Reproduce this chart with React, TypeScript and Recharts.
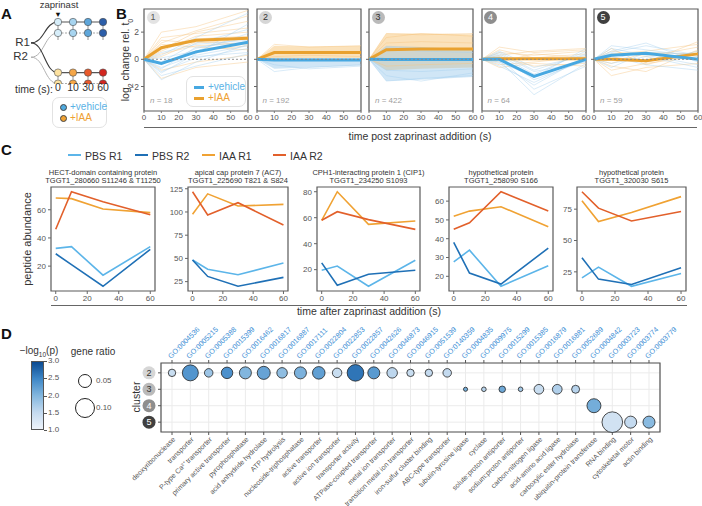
import React from "react";
import {
  Area,
  CartesianGrid,
  Cell,
  ComposedChart,
  Line,
  LineChart,
  ReferenceArea,
  ReferenceLine,
  Scatter,
  ScatterChart,
  XAxis,
  YAxis,
  ZAxis,
} from "recharts";

const FONT = '"Liberation Sans", Arial, sans-serif';

// ---------- panel A (schematic) ----------
const A_TIMES = [0, 10, 30, 60];
const A_REPS = ["R1", "R2"];
const A_ROW_LANES = [0, 1, 4.6, 5.6]; // vehicle R1, vehicle R2, IAA R1, IAA R2
const A_ROW_REP = [0, 1, 0, 1];
const A_REP_LANES = [1.9, 3.2];
const A_VEH_SHADES = ["#d6edf9", "#a7d4ef", "#5ea6da", "#2c5ea9"];
const A_IAA_SHADES = ["#fde2a0", "#f5a648", "#e95a2b", "#d2261f"];

// ---------- panel B ----------
const B_TIMES = [0, 10, 30, 60];
const B_XTICKS = [0, 10, 20, 30, 40, 50, 60];
const B_N = [18, 192, 422, 64, 59];
const B_VEH_MEAN = [
  [0, -0.3, 0.55, 1.25],
  [0, -0.05, -0.05, -0.05],
  [0, -0.02, -0.02, -0.02],
  [0, 0, -1.25, 0],
  [0, 0.3, 0.45, 0],
];
const B_IAA_MEAN = [
  [0, 0.85, 1.4, 1.55],
  [0, 0.5, 0.5, 0.5],
  [0, 0.7, 0.75, 0.75],
  [0, 0.04, 0.04, 0.04],
  [0, 0, -0.1, 0.4],
];
const B_VEH_TRACES = [
  [
    [0, -0.6, 0.3, 1.0],
    [0, -0.2, 1.2, 2.2],
    [0, -0.9, 0.1, 0.8],
    [0, 0.3, 1.6, 3.4],
    [0, -1.2, -0.5, 0.4],
    [0, -0.4, 0.8, 1.6],
    [0, -1.5, -0.2, 1.1],
    [0, 0.1, 0.6, 1.9],
    [0, -0.7, 0.9, 1.3],
    [0, -0.3, 0.2, 0.5],
    [0, -1.0, 0.4, 2.6],
    [0, 0.5, 1.1, 1.4],
  ],
  [
    [0, -0.9, -0.6, -0.4],
    [0, -0.4, -0.7, -0.5],
  ],
  [
    [0, -1.6, -1.4, -1.2],
    [0, -1.2, -1.6, -1.0],
    [0, 0.8, 0.6, 0.5],
    [0, -0.8, -0.9, -0.7],
  ],
  [
    [0, 0.2, -1.5, -0.1],
    [0, -0.3, -1.9, 0.2],
    [0, 0.5, -0.8, 0.4],
    [0, -0.1, -2.6, -0.3],
    [0, 0.3, -1.1, 0.6],
    [0, -0.5, -1.7, 0.1],
    [0, 0.1, -2.2, -0.5],
    [0, 0.6, -0.6, 0.3],
    [0, -0.2, -1.3, 0.8],
    [0, 0.4, -0.9, -0.2],
  ],
  [
    [0, 0.8, 0.3, -0.4],
    [0, 0.5, 1.0, 0.3],
    [0, -0.3, 0.2, -0.6],
    [0, 1.0, 0.7, 0.2],
    [0, 0.2, -0.4, -0.8],
    [0, -0.6, 0.5, 0.4],
    [0, 0.6, 1.2, -0.2],
    [0, 0.4, -0.2, 0.6],
  ],
];
const B_IAA_TRACES = [
  [
    [0, 1.2, 2.1, 3.2],
    [0, 0.4, 1.0, 1.2],
    [0, 1.6, 1.9, 2.3],
    [0, -0.3, 0.6, 1.0],
    [0, 0.9, 1.5, 1.7],
    [0, 2.0, 2.4, 3.6],
    [0, 0.2, 1.3, 1.1],
    [0, 1.1, 0.9, 0.7],
    [0, 0.6, 1.7, 2.0],
    [0, -0.8, -0.2, 0.3],
    [0, 1.4, 1.2, 1.5],
    [0, 0.7, 2.0, 2.8],
    [0, -1.4, -0.6, -0.2],
  ],
  [
    [0, 1.1, 0.9, 1.0],
    [0, 0.2, 0.3, 0.2],
  ],
  [
    [0, 1.9, 1.8, 1.9],
    [0, 1.6, 1.9, 1.7],
    [0, -0.5, -0.4, -0.3],
    [0, 1.2, 1.3, 1.2],
  ],
  [
    [0, 0.5, 0.3, 0.6],
    [0, -0.4, -0.2, 0.2],
    [0, 0.9, 0.5, 0.7],
    [0, 0.2, -0.5, -0.3],
    [0, -0.2, 0.4, 0.1],
    [0, 0.7, 0.1, 0.4],
    [0, -0.6, -0.3, -0.5],
    [0, 0.3, 0.6, 0.8],
  ],
  [
    [0, -0.5, -0.9, 0.7],
    [0, 0.4, 0.6, 1.1],
    [0, -0.8, -0.3, 0.2],
    [0, 0.6, 0.2, 0.9],
    [0, -1.2, -0.6, -0.3],
    [0, 0.2, -0.2, 1.3],
    [0, -0.3, 0.5, 0.4],
    [0, 0.8, -0.4, 0.6],
  ],
];
const B_VEH_LO = [null, [0, -0.7, -0.6, -0.45], [0, -1.6, -1.5, -1.3], null, null];
const B_VEH_HI = [null, [0, 0.12, 0.1, 0.1], [0, 1.0, 0.9, 0.7], null, null];
const B_IAA_LO = [null, [0, 0.05, 0.1, 0.1], [0, -0.8, -0.7, -0.6], null, null];
const B_IAA_HI = [null, [0, 1.0, 0.95, 1.0], [0, 1.9, 1.9, 1.85], null, null];

const CLUSTER_FILL = ["#e3e3e3", "#d6d6d6", "#bababa", "#8e8e8e", "#404040"];
const CLUSTER_TEXT = ["#555", "#333", "#333", "#fff", "#fff"];

// ---------- panel C ----------
const C_TIMES = [0, 10, 30, 60];
const C_TITLES = [
  ["HECT-domain containing protein", "TGGT1_280660 S11246 & T11250"],
  ["apical cap protein 7 (AC7)", "TGGT1_225690 T821 & S824"],
  ["CPH1-interacting protein 1 (CIP1)", "TGGT1_234250 S1093"],
  ["hypothetical protein", "TGGT1_258090 S166"],
  ["hypothetical protein", "TGGT1_320030 S615"],
];
const C_PBS_R1 = [
  [32.6, 33.8, 13.6, 33.8],
  [48.3, 38.4, 32.4, 45.1],
  [19.5, 22.8, 7.2, 27.2],
  [27.7, 33.9, 14.7, 25.6],
  [20.2, 28.8, 13.5, 23.7],
];
const C_PBS_R2 = [
  [28.8, 21, 5.7, 31.9],
  [48.3, 30.6, 20, 29.6],
  [25.2, 8, 16.4, 19.5],
  [38, 21.7, 15.9, 35],
  [36.2, 19.2, 14.9, 28.2],
];
const C_IAA_R1 = [
  [68.3, 67.9, 60.5, 58],
  [97.6, 119.5, 106.4, 108.2],
  [58, 80, 54.9, 57.5],
  [52, 54.7, 57, 46.4],
  [81.7, 65.1, 72.3, 85],
];
const C_IAA_R2 = [
  [46.2, 72.8, 65.7, 56.4],
  [121.8, 96.8, 110, 86],
  [58, 64.6, 58.5, 51],
  [45, 48.5, 65, 54.7],
  [88.9, 75.8, 65.6, 73.1],
];
const C_YTICKS = [
  [20, 40, 60],
  [25, 50, 75, 100, 125],
  [20, 40, 60, 80],
  [20, 30, 40, 50, 60],
  [25, 50, 75],
];
const C_SERIES = ["PBS R1", "PBS R2", "IAA R1", "IAA R2"];
const C_COLORS = ["#5cb5e9", "#1f70b6", "#f0a233", "#e2602b"];
const C_BOX_LEFT = [51, 188, 317, 449, 577];
const C_BOX_W = [104, 100, 103, 104, 109];

// ---------- panel D ----------
const GO_IDS = [
  "GO:0004536", "GO:0005215", "GO:0005388", "GO:0015399", "GO:0016462", "GO:0016817",
  "GO:0016887", "GO:0017111", "GO:0022804", "GO:0022853", "GO:0022857", "GO:0042626",
  "GO:0046873", "GO:0046915", "GO:0051539", "GO:0140359", "GO:0004835", "GO:0009975",
  "GO:0015299", "GO:0015385", "GO:0016879", "GO:0016881", "GO:0052689", "GO:0004842",
  "GO:0003723", "GO:0003774", "GO:0003779",
];
const GO_TERMS = [
  "deoxyribonuclease", "transporter", "P-type Ca²⁺ transporter", "primary active transporter",
  "pyrophosphatase", "acid anhydride hydrolase", "ATP hydrolysis", "nucleoside-triphosphatase",
  "active transporter", "active ion transporter", "transporter activity", "ATPase-coupled transporter",
  "metal ion transporter", "transition metal ion transporter", "iron-sulfur cluster binding",
  "ABC-type transporter", "tubulin-tyrosine ligase", "cyclase", "solute:proton antiporter",
  "sodium:proton antiporter", "carbon-nitrogen ligase", "acid-amino acid ligase",
  "carboxylic ester hydrolase", "ubiquitin-protein transferase", "RNA binding",
  "cytoskeletal motor", "actin binding",
];
const GO_CLUSTER = [2, 2, 2, 2, 2, 2, 2, 2, 2, 2, 2, 2, 2, 2, 2, 2, 3, 3, 3, 3, 3, 3, 3, 4, 5, 5, 5];
const GO_RATIO = [
  0.013, 0.06, 0.017, 0.031, 0.034, 0.04, 0.026, 0.034, 0.037, 0.021, 0.065, 0.034, 0.026,
  0.013, 0.013, 0.017, 0.004, 0.005, 0.01, 0.005, 0.022, 0.022, 0.015, 0.046, 0.1, 0.034, 0.034,
];
const GO_NLP = [
  1.45, 2.35, 1.8, 2.4, 2.0, 2.2, 1.9, 2.05, 2.25, 1.45, 2.65, 2.3, 1.55, 1.45, 1.5, 1.5,
  2.1, 1.6, 2.15, 1.75, 1.45, 1.65, 1.6, 2.1, 1.35, 1.5, 1.95,
];
const NLP_STOPS = [1, 1.5, 2, 2.5, 3];
const NLP_COLORS = ["#eef3fa", "#c4daef", "#82b6de", "#3e87c7", "#0b4a91"];
const LEGEND_RATIOS = [0.05, 0.1];
const SIZE_DOMAIN = [0, 0.1];
const SIZE_RANGE = [0, 334];

function hexToRgb(h: string) {
  const n = parseInt(h.slice(1), 16);
  return [(n >> 16) & 255, (n >> 8) & 255, n & 255];
}
function nlpColor(v: number) {
  const c = Math.max(NLP_STOPS[0], Math.min(NLP_STOPS[NLP_STOPS.length - 1], v));
  let i = 0;
  while (i < NLP_STOPS.length - 2 && c > NLP_STOPS[i + 1]) i++;
  const f = (c - NLP_STOPS[i]) / (NLP_STOPS[i + 1] - NLP_STOPS[i]);
  const a = hexToRgb(NLP_COLORS[i]);
  const b = hexToRgb(NLP_COLORS[i + 1]);
  const m = a.map((x, k) => Math.round(x + (b[k] - x) * f));
  return `rgb(${m[0]},${m[1]},${m[2]})`;
}
function ratioRadius(r: number) {
  const area = SIZE_RANGE[0] + ((r - SIZE_DOMAIN[0]) / (SIZE_DOMAIN[1] - SIZE_DOMAIN[0])) * (SIZE_RANGE[1] - SIZE_RANGE[0]);
  return Math.sqrt(area / Math.PI);
}
const minus = (v: number) => (v < 0 ? `\u2212${-v}` : `${v}`);

function Txt({ x, y, size = 10, color = "#333", anchor = "start", weight = 400, italic = false, children }: any) {
  const tx = anchor === "middle" ? "-50%" : anchor === "end" ? "-100%" : "0";
  return (
    <div
      style={{
        position: "absolute",
        left: x,
        top: y,
        fontSize: size,
        color,
        fontWeight: weight,
        fontStyle: italic ? "italic" : "normal",
        lineHeight: 1,
        whiteSpace: "nowrap",
        transform: `translate(${tx}, -50%)`,
      }}
    >
      {children}
    </div>
  );
}

function VTxt({ x, y, size = 10, color = "#333", children }: any) {
  return (
    <div
      style={{
        position: "absolute",
        left: x,
        top: y,
        fontSize: size,
        color,
        lineHeight: 1,
        whiteSpace: "nowrap",
        transform: "translate(-50%, -50%) rotate(-90deg)",
      }}
    >
      {children}
    </div>
  );
}

function ClusterBadge({ x, y, c, r = 6.5, size = 9 }: any) {
  return (
    <div
      style={{
        position: "absolute",
        left: x - r,
        top: y - r,
        width: 2 * r,
        height: 2 * r,
        borderRadius: "50%",
        background: CLUSTER_FILL[c - 1],
        color: CLUSTER_TEXT[c - 1],
        fontSize: size,
        lineHeight: `${2 * r}px`,
        textAlign: "center",
      }}
    >
      {c}
    </div>
  );
}

// ---------- A ----------
function PanelA() {
  const branchStart = -1.8;
  return (
    <>
      <Txt x={1} y={13} size={15} weight={700} color="#111">A</Txt>
      <Txt x={59} y={5} size={9.5} anchor="middle">zaprinast</Txt>
      <Txt x={58} y={14.5} size={7.5} anchor="middle" color="#111">▼</Txt>
      <div style={{ position: "absolute", left: 0, top: 0 }}>
        <ComposedChart width={115} height={96} margin={{ top: 0, right: 0, bottom: 0, left: 0 }}>
          <XAxis
            type="number"
            dataKey="s"
            domain={[-58 / 15, 57 / 15]}
            ticks={[0, 1, 2, 3]}
            interval={0}
            height={12}
            axisLine={false}
            tickLine={false}
            tickSize={0}
            tickMargin={0}
            tick={{ fontSize: 10.5, fill: "#333" }}
            tickFormatter={(v: number) => String(A_TIMES[v])}
            allowDataOverflow
          />
          <YAxis type="number" dataKey="y" hide domain={[-2, 62 / 11]} reversed allowDataOverflow />
          {A_ROW_LANES.map((lane, r) => (
            <Line
              key={`b${r}`}
              data={[
                { s: branchStart, y: A_REP_LANES[A_ROW_REP[r]] },
                { s: 0, y: lane },
              ]}
              dataKey="y"
              type="bumpX"
              stroke={A_ROW_REP[r] === 0 ? "#3a3a3a" : "#a8a8a8"}
              strokeWidth={A_ROW_REP[r] === 0 ? 1.1 : 0.9}
              dot={false}
              activeDot={false}
              isAnimationActive={false}
            />
          ))}
          {A_ROW_LANES.map((lane, r) => {
            const shades = r < 2 ? A_VEH_SHADES : A_IAA_SHADES;
            return (
              <Line
                key={`r${r}`}
                data={A_TIMES.map((_, i) => ({ s: i, y: lane }))}
                dataKey="y"
                stroke={A_ROW_REP[r] === 0 ? "#555" : "#999"}
                strokeWidth={A_ROW_REP[r] === 0 ? 1.2 : 0.9}
                strokeDasharray={A_ROW_REP[r] === 0 ? undefined : "2 1.5"}
                isAnimationActive={false}
                activeDot={false}
                dot={(p: any) => (
                  <g key={`d${r}-${p.index}`}>
                    <line x1={p.cx} x2={p.cx} y1={p.cy + 3} y2={p.cy + 7} stroke="#777" strokeWidth={0.8} />
                    <circle cx={p.cx} cy={p.cy} r={3.7} fill={shades[p.index]} stroke="#4a4a4a" strokeWidth={0.6} />
                  </g>
                )}
              />
            );
          })}
        </ComposedChart>
      </div>
      <Txt x={30} y={43} size={11.5} anchor="end">{A_REPS[0]}</Txt>
      <Txt x={28} y={57} size={11.5} anchor="end">{A_REPS[1]}</Txt>
      <Txt x={53} y={89} size={10.5} anchor="end">time (s):</Txt>
      <div
        style={{
          position: "absolute",
          left: 52,
          top: 97,
          width: 55,
          height: 31,
          border: "1px solid #e2e2e2",
          borderRadius: 7,
          boxSizing: "border-box",
        }}
      />
      <div style={{ position: "absolute", left: 59.5, top: 103.5, width: 7, height: 7, borderRadius: "50%", background: "#4faadf", border: "0.6px solid #444", boxSizing: "border-box" }} />
      <div style={{ position: "absolute", left: 59.5, top: 114.5, width: 7, height: 7, borderRadius: "50%", background: "#f0a233", border: "0.6px solid #444", boxSizing: "border-box" }} />
      <Txt x={70} y={107} size={10} color="#5ab2e6">+vehicle</Txt>
      <Txt x={70} y={118} size={10} color="#eea033">+IAA</Txt>
    </>
  );
}

// ---------- B ----------
function TrendPanel({ k }: { k: number }) {
  const boxLeft = 144 + k * 112.5;
  const vTr = B_VEH_TRACES[k];
  const iTr = B_IAA_TRACES[k];
  const data = B_TIMES.map((t, i) => {
    const row: any = { t, vm: B_VEH_MEAN[k][i], im: B_IAA_MEAN[k][i] };
    vTr.forEach((tr, j) => (row[`v${j}`] = tr[i]));
    iTr.forEach((tr, j) => (row[`i${j}`] = tr[i]));
    if (B_VEH_LO[k]) row.vb = [B_VEH_LO[k]![i], B_VEH_HI[k]![i]];
    if (B_IAA_LO[k]) row.ib = [B_IAA_LO[k]![i], B_IAA_HI[k]![i]];
    return row;
  });
  const dom = [-3.8, 3.7];
  return (
    <div style={{ position: "absolute", left: boxLeft - 20, top: 0 }}>
      <ComposedChart width={134} height={124} data={data} margin={{ top: 9, right: 10, bottom: 0, left: 0 }}>
        <XAxis
          dataKey="t"
          type="number"
          domain={[0, 60]}
          ticks={B_XTICKS}
          interval={0}
          height={13}
          axisLine={false}
          tickSize={2}
          tickMargin={1}
          tickLine={{ stroke: "#777" }}
          tick={{ fontSize: 8, fill: "#555" }}
        />
        <YAxis
          type="number"
          domain={dom}
          ticks={[-2, 0, 2]}
          width={20}
          axisLine={false}
          tickSize={3}
          tickMargin={2}
          tickLine={{ stroke: "#666" }}
          tick={{ fontSize: 8.5, fill: "#555" }}
          tickFormatter={k === 0 ? minus : () => ""}
          allowDataOverflow
        />
        {B_IAA_LO[k] && (
          <Area dataKey="ib" stroke="none" fill="#f5b95e" fillOpacity={0.42} isAnimationActive={false} activeDot={false} />
        )}
        {B_VEH_LO[k] && (
          <Area dataKey="vb" stroke="none" fill="#8fc4ea" fillOpacity={0.42} isAnimationActive={false} activeDot={false} />
        )}
        {iTr.map((_, j) => (
          <Line key={`i${j}`} dataKey={`i${j}`} stroke="#f5c27e" strokeOpacity={0.6} strokeWidth={0.7} dot={false} activeDot={false} isAnimationActive={false} />
        ))}
        {vTr.map((_, j) => (
          <Line key={`v${j}`} dataKey={`v${j}`} stroke="#a3cfee" strokeOpacity={0.6} strokeWidth={0.7} dot={false} activeDot={false} isAnimationActive={false} />
        ))}
        <Line dataKey="im" stroke="#e9a12f" strokeWidth={3} dot={false} activeDot={false} isAnimationActive={false} />
        <Line dataKey="vm" stroke="#47a8e1" strokeWidth={3} dot={false} activeDot={false} isAnimationActive={false} />
        <ReferenceLine y={0} stroke="#888" strokeWidth={0.9} strokeDasharray="2 2" />
        <ReferenceArea x1={0} x2={60} y1={dom[0]} y2={dom[1]} fill="none" stroke="#5a5a5a" strokeWidth={1.2} />
      </ComposedChart>
    </div>
  );
}

function PanelB() {
  return (
    <>
      <Txt x={116} y={13} size={15} weight={700} color="#111">B</Txt>
      {B_N.map((_, k) => (
        <TrendPanel key={k} k={k} />
      ))}
      {B_N.map((n, k) => (
        <React.Fragment key={`l${k}`}>
          <ClusterBadge x={144 + k * 112.5 + 9} y={17.5} c={k + 1} />
          <Txt x={144 + k * 112.5 + 6} y={101} size={8} color="#a0a0a0">
            <i>n</i> = {n}
          </Txt>
        </React.Fragment>
      ))}
      <VTxt x={127} y={60} size={10.5}>
        log<sub style={{ fontSize: 7 }}>2</sub> change rel. t<sub style={{ fontSize: 7 }}>0</sub>
      </VTxt>
      <div
        style={{
          position: "absolute",
          left: 186,
          top: 76,
          width: 60,
          height: 31,
          background: "#fff",
          border: "1px solid #e2e2e2",
          borderRadius: 7,
          boxSizing: "border-box",
        }}
      />
      <div style={{ position: "absolute", left: 194, top: 85.5, width: 10, height: 3, background: "#47a8e1" }} />
      <div style={{ position: "absolute", left: 194, top: 96.5, width: 10, height: 3, background: "#e9a12f" }} />
      <Txt x={208} y={87} size={10} color="#5ab2e6">+vehicle</Txt>
      <Txt x={208} y={98} size={10} color="#eea033">+IAA</Txt>
      <div style={{ position: "absolute", left: 144, top: 127, width: 553, borderTop: "1px solid #666" }} />
      <Txt x={420} y={136} size={10.5} anchor="middle">time post zaprinast addition (s)</Txt>
    </>
  );
}

// ---------- C ----------
function AbundancePanel({ j }: { j: number }) {
  const series = [C_PBS_R1[j], C_PBS_R2[j], C_IAA_R1[j], C_IAA_R2[j]];
  const data = C_TIMES.map((t, i) => ({ t, s0: series[0][i], s1: series[1][i], s2: series[2][i], s3: series[3][i] }));
  const all = series.flat();
  const lo = Math.min(...all);
  const hi = Math.max(...all);
  const pad = (hi - lo) * 0.05;
  const dom = [lo - pad, hi + pad];
  const boxLeft = C_BOX_LEFT[j];
  const w = C_BOX_W[j];
  return (
    <>
      <div style={{ position: "absolute", left: boxLeft + w / 2, top: 168.5, transform: "translateX(-50%)", textAlign: "center", fontSize: 7.5, lineHeight: "8.5px", color: "#333", whiteSpace: "nowrap" }}>
        {C_TITLES[j][0]}
        <br />
        {C_TITLES[j][1]}
      </div>
      <div style={{ position: "absolute", left: boxLeft - 30, top: 183 }}>
        <LineChart width={30 + w + 8} height={125} data={data} margin={{ top: 4, right: 8, bottom: 0, left: 0 }}>
          <XAxis
            dataKey="t"
            type="number"
            domain={[-3, 63]}
            ticks={[0, 20, 40, 60]}
            interval={0}
            height={17}
            axisLine={false}
            tickSize={3}
            tickMargin={1}
            tickLine={{ stroke: "#666" }}
            tick={{ fontSize: 8, fill: "#555" }}
          />
          <YAxis
            type="number"
            domain={dom}
            ticks={C_YTICKS[j]}
            interval={0}
            width={30}
            axisLine={false}
            tickSize={3}
            tickMargin={2}
            tickLine={{ stroke: "#666" }}
            tick={{ fontSize: 8, fill: "#555" }}
            allowDataOverflow
          />
          {C_SERIES.map((_, s) => (
            <Line key={s} dataKey={`s${s}`} stroke={C_COLORS[s]} strokeWidth={1.6} dot={false} activeDot={false} isAnimationActive={false} />
          ))}
          <ReferenceArea x1={-3} x2={63} y1={dom[0]} y2={dom[1]} fill="none" stroke="#5a5a5a" strokeWidth={1.2} />
        </LineChart>
      </div>
    </>
  );
}

function PanelC() {
  const legendX = [68, 135, 202, 273];
  return (
    <>
      <Txt x={1} y={149} size={15} weight={700} color="#111">C</Txt>
      {C_SERIES.map((name, s) => (
        <React.Fragment key={name}>
          <div style={{ position: "absolute", left: legendX[s], top: 154, width: 13, height: 2.2, background: C_COLORS[s] }} />
          <Txt x={legendX[s] + 17} y={155.5} size={10.5}>{name}</Txt>
        </React.Fragment>
      ))}
      {C_TITLES.map((_, j) => (
        <AbundancePanel key={j} j={j} />
      ))}
      <VTxt x={27} y={239} size={11}>peptide abundance</VTxt>
      <div style={{ position: "absolute", left: 51, top: 305, width: 636, borderTop: "1px solid #666" }} />
      <Txt x={369} y={311} size={10.5} anchor="middle">time after zaprinast addition (s)</Txt>
    </>
  );
}

// ---------- D ----------
function PanelD() {
  const data = GO_IDS.map((id, i) => ({ x: i + 1, cluster: GO_CLUSTER[i], ratio: GO_RATIO[i], nlp: GO_NLP[i] }));
  const idx = GO_IDS.map((_, i) => i + 1);
  const barTicks = [3, 2.5, 2, 1.5, 1];
  const barTop = 361;
  const barH = 69;
  const grad = `linear-gradient(to top, ${NLP_STOPS.map((v, i) => `${NLP_COLORS[i]} ${((v - 1) / 2) * 100}%`).join(", ")})`;
  return (
    <>
      <Txt x={1} y={333} size={15} weight={700} color="#111">D</Txt>
      <Txt x={39} y={352} size={10} anchor="middle">
        −log<sub style={{ fontSize: 6.5 }}>10</sub>(p)
      </Txt>
      <div style={{ position: "absolute", left: 31, top: barTop, width: 13, height: barH, background: grad, border: "1px solid #555", boxSizing: "border-box" }} />
      {barTicks.map((v) => {
        const y = barTop + ((3 - v) / 2) * barH;
        return (
          <React.Fragment key={v}>
            <div style={{ position: "absolute", left: 44, top: y, width: 3, borderTop: "1px solid #555" }} />
            <Txt x={48} y={y} size={8} color="#555">{v.toFixed(1)}</Txt>
          </React.Fragment>
        );
      })}
      <Txt x={93} y={352} size={10} anchor="middle">gene ratio</Txt>
      {LEGEND_RATIOS.map((r, i) => {
        const rad = ratioRadius(r);
        const cy = i === 0 ? 381 : 408;
        return (
          <React.Fragment key={r}>
            <div style={{ position: "absolute", left: 85 - rad, top: cy - rad, width: 2 * rad, height: 2 * rad, borderRadius: "50%", border: "1px solid #222", boxSizing: "border-box" }} />
            <Txt x={96} y={cy} size={8} color="#555">{r.toFixed(2)}</Txt>
          </React.Fragment>
        );
      })}
      <VTxt x={136} y={397} size={10.5}>cluster</VTxt>
      <div style={{ position: "absolute", left: 120, top: 310 }}>
        <ScatterChart width={560} height={196} margin={{ top: 0, right: 20, bottom: 0, left: 0 }}>
          <CartesianGrid stroke="#ebebeb" strokeWidth={1} />
          <XAxis
            type="number"
            dataKey="x"
            domain={[0.4, 27.6]}
            ticks={idx}
            interval={0}
            height={74}
            axisLine={false}
            tickSize={3}
            tickMargin={1}
            tickLine={{ stroke: "#555" }}
            tick={(p: any) => (
              <g transform={`translate(${p.x + 2},${p.y + 2})`}>
                <text transform="rotate(-45)" textAnchor="end" fontSize={7} dy="0.35em" style={{ fill: "#555", stroke: "none" }}>
                  {GO_TERMS[p.payload.value - 1]}
                </text>
              </g>
            )}
          />
          <XAxis
            xAxisId="top"
            orientation="top"
            type="number"
            dataKey="x"
            domain={[0.4, 27.6]}
            ticks={idx}
            interval={0}
            height={53}
            axisLine={false}
            tickSize={3}
            tickMargin={1}
            tickLine={{ stroke: "#555" }}
            tick={(p: any) => (
              <g transform={`translate(${p.x - 1},${p.y})`}>
                <text transform="rotate(-45)" textAnchor="start" fontSize={7.2} style={{ fill: "#3b8ed5", stroke: "none" }}>
                  {GO_IDS[p.payload.value - 1]}
                </text>
              </g>
            )}
          />
          <YAxis
            type="number"
            dataKey="cluster"
            domain={[1.4, 5.6]}
            reversed
            ticks={[2, 3, 4, 5]}
            interval={0}
            width={41}
            axisLine={false}
            tickSize={3}
            tickMargin={2}
            tickLine={{ stroke: "#555" }}
            tick={(p: any) => {
              const c = p.payload.value;
              return (
                <g stroke="none">
                  <circle cx={p.x - 7} cy={p.y} r={6.5} fill={CLUSTER_FILL[c - 1]} stroke="none" />
                  <text x={p.x - 7} y={p.y} dy="0.35em" textAnchor="middle" fontSize={9} style={{ fill: CLUSTER_TEXT[c - 1], stroke: "none" }}>
                    {c}
                  </text>
                </g>
              );
            }}
          />
          <ZAxis type="number" dataKey="ratio" domain={SIZE_DOMAIN} range={SIZE_RANGE} />
          <ReferenceArea x1={0.4} x2={27.6} y1={1.4} y2={5.6} fill="none" stroke="#555" strokeWidth={1.2} />
          <Scatter data={data} stroke="#222" strokeWidth={0.8} isAnimationActive={false}>
            {data.map((d, i) => (
              <Cell key={i} fill={nlpColor(d.nlp)} />
            ))}
          </Scatter>
          <Scatter xAxisId="top" data={data} fill="none" stroke="none" isAnimationActive={false} shape={() => <g />} />
        </ScatterChart>
      </div>
    </>
  );
}

export default function App() {
  return (
    <div
      style={{
        position: "absolute",
        left: 0,
        top: 0,
        width: 702,
        height: 506,
        background: "#fff",
        fontFamily: FONT,
        color: "#333",
        overflow: "hidden",
      }}
    >
      <PanelA />
      <PanelB />
      <PanelC />
      <PanelD />
    </div>
  );
}
